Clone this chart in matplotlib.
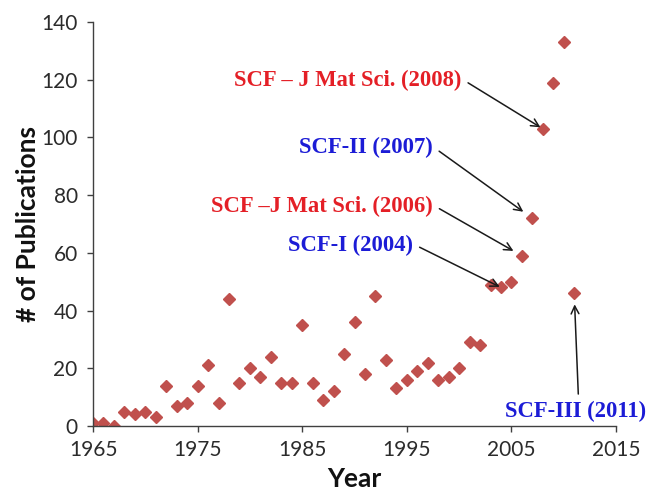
import matplotlib
matplotlib.use("Agg")
import matplotlib.pyplot as plt

years = [1965, 1966, 1967, 1968, 1969, 1970, 1971, 1972, 1973, 1974,
         1975, 1976, 1977, 1978, 1979, 1980, 1981, 1982, 1983, 1984,
         1985, 1986, 1987, 1988, 1989, 1990, 1991, 1992, 1993, 1994,
         1995, 1996, 1997, 1998, 1999, 2000, 2001, 2002, 2003, 2004,
         2005, 2006, 2007, 2008, 2009, 2010, 2011]
pubs = [1, 1, 0, 5, 4, 5, 3, 14, 7, 8,
        14, 21, 8, 44, 15, 20, 17, 24, 15, 15,
        35, 15, 9, 12, 25, 36, 18, 45, 23, 13,
        16, 19, 22, 16, 17, 20, 29, 28, 49, 48,
        50, 59, 72, 103, 119, 133, 46]

x_ticks = [1965, 1975, 1985, 1995, 2005, 2015]
y_ticks = [0, 20, 40, 60, 80, 100, 120, 140]

ann_labels = ["SCF \u2013 J Mat Sci. (2008)", "SCF-II (2007)",
              "SCF \u2013J Mat Sci. (2006)", "SCF-I (2004)", "SCF-III (2011)"]
ann_years = [2008, 2007, 2006, 2004, 2011]
ann_values = [103, 72, 59, 48, 46]

RED = "#e41f26"
BLUE = "#1c1cd6"
ann_colors = [RED, BLUE, RED, BLUE, BLUE]
# text anchor positions (data coords), alignment, arrow start and shrink
ann_text_pos = [(2000.25, 119.9), (1997.5, 96.4), (1997.5, 76.2), (1995.6, 62.7), (2011.15, 5.0)]
ann_ha = ["right", "right", "right", "right", "center"]
ann_relpos = [(1.0, 0.55), (1.0, 0.55), (1.0, 0.55), (1.0, 0.55), (0.52, 1.0)]
ann_shrinkB = [2, 8, 7, 1, 8]

fig = plt.figure(figsize=(6.46, 4.91), dpi=100)
ax = fig.add_axes([0.144, 0.1324, 0.8096, 0.8228])

ax.plot(years, pubs, linestyle="none", marker="D", markersize=5.8,
        color="#c0504d", markeredgecolor="#c0504d")

ax.set_xlim(1965, 2015)
ax.set_ylim(0, 140)
ax.set_xticks(x_ticks)
ax.set_yticks(y_ticks)

for s in ["top", "right"]:
    ax.spines[s].set_visible(False)
for s in ["left", "bottom"]:
    ax.spines[s].set_color("#404040")
    ax.spines[s].set_linewidth(1.0)

ax.tick_params(direction="out", length=4, width=1.0, color="#404040",
               labelsize=15, labelcolor="#2b2b2b")
ax.tick_params(axis="x", pad=6)
ax.tick_params(axis="y", pad=7)
for lab in ax.get_xticklabels() + ax.get_yticklabels():
    lab.set_family("Lato")

ax.set_xlabel("Year", fontsize=19, fontweight="bold", family="Lato",
              color="#111111", va="center")
ax.set_ylabel("# of Publications", fontsize=19, fontweight="bold", family="Lato",
              color="#111111", va="center")
ax.xaxis.set_label_coords(0.5, -0.13)
ax.yaxis.set_label_coords(-0.124, 0.5)

for lab, yr, val, col, pos, ha, rp, sb in zip(ann_labels, ann_years, ann_values, ann_colors,
                                              ann_text_pos, ann_ha, ann_relpos, ann_shrinkB):
    ax.annotate(lab, xy=(yr, val), xytext=pos, textcoords="data",
                ha=ha, va="center", color=col, fontsize=16.3, fontweight="bold",
                family="Liberation Serif", annotation_clip=False,
                arrowprops=dict(arrowstyle="->", color="#1a1a1a", lw=1.1,
                                relpos=rp, shrinkA=3, shrinkB=sb, mutation_scale=14))

fig.savefig("out.png", dpi=100)
